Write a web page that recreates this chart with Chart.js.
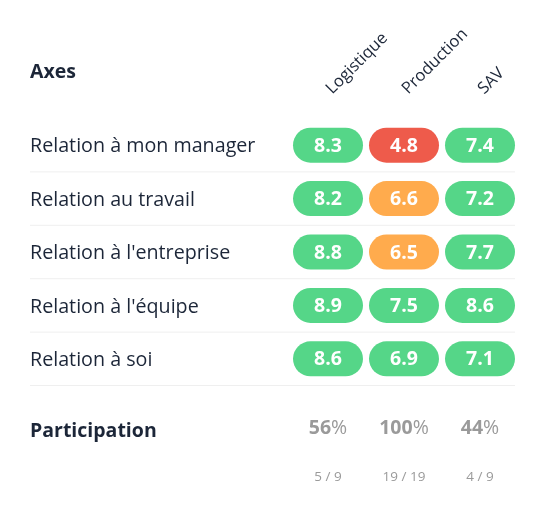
<!DOCTYPE html>
<html>
<head>
<meta charset="utf-8">
<style>
  html, body { margin: 0; background: #fff; }
  canvas { display: block; }
</style>
<script src="https://cdn.jsdelivr.net/npm/chart.js@4/dist/chart.umd.js"></script>
</head>
<body>
<canvas id="grille" width="540" height="514"></canvas>
<script>
const colonnes = ["Logistique", "Production", "SAV"];
const lignes = ["Relation à mon manager", "Relation au travail", "Relation à l'entreprise", "Relation à l'équipe", "Relation à soi"];

const logistique = [8.3, 8.2, 8.8, 8.9, 8.6];
const production = [4.8, 6.6, 6.5, 7.5, 6.9];
const sav = [7.4, 7.2, 7.7, 8.6, 7.1];

const participation = [56, 100, 44];
const repondants = ["5 / 9", "19 / 19", "4 / 9"];

const POLICE = "'Open Sans', sans-serif";
const SOMBRE = "#1c2638";
const GRIS = "#9a9a9a";

function couleur(note) {
    if (note < 5) return "#ee5b4b";
    if (note < 6.8) return "#ffab4d";
    return "#55d688";
}

function serie(nom, notes) {
    return {
        label: nom,
        data: notes.map((note, i) => ({ x: nom, y: lignes[i], note: note })),
        showLine: false,
        pointRadius: 0
    };
}

// pastilles + textes hors axes
const grillePlugin = {
    id: "grille",
    beforeDatasetsDraw(chart) {
        const ctx = chart.ctx;
        const y = chart.scales.y;
        const pas = y.getPixelForValue(1) - y.getPixelForValue(0);
        ctx.save();
        ctx.strokeStyle = "#efefef";
        ctx.lineWidth = 1;
        lignes.forEach((l, i) => {
            const py = y.getPixelForValue(i) + pas / 2;
            ctx.beginPath();
            ctx.moveTo(30, py);
            ctx.lineTo(515, py);
            ctx.stroke();
        });
        ctx.restore();
    },
    afterDatasetsDraw(chart) {
        const ctx = chart.ctx;
        ctx.save();
        ctx.textAlign = "center";
        ctx.textBaseline = "middle";
        chart.data.datasets.forEach((ds, d) => {
            chart.getDatasetMeta(d).data.forEach((pt, i) => {
                ctx.beginPath();
                ctx.roundRect(pt.x - 35, pt.y - 17.5, 70, 35, 17.5);
                ctx.fillStyle = couleur(ds.data[i].note);
                ctx.fill();
                ctx.fillStyle = "#fff";
                ctx.font = "bold 19.5px " + POLICE;
                ctx.fillText(ds.data[i].note.toFixed(1), pt.x, pt.y + 1);
            });
        });

        ctx.textAlign = "left";
        ctx.fillStyle = SOMBRE;
        ctx.font = "bold 19.5px " + POLICE;
        ctx.fillText("Axes", 30, 72.5);
        ctx.fillText("Participation", 30, 431);

        const x = chart.scales.x;
        colonnes.forEach((c, i) => {
            const px = x.getPixelForValue(i);
            ctx.fillStyle = GRIS;
            ctx.font = "bold 19.5px " + POLICE;
            const nb = String(participation[i]);
            const l1 = ctx.measureText(nb).width;
            ctx.font = "19.5px " + POLICE;
            const l2 = ctx.measureText("%").width;
            ctx.textAlign = "left";
            ctx.font = "bold 19.5px " + POLICE;
            ctx.fillText(nb, px - (l1 + l2) / 2, 428.5);
            ctx.font = "19.5px " + POLICE;
            ctx.fillText("%", px - (l1 + l2) / 2 + l1, 428.5);

            ctx.textAlign = "center";
            ctx.font = "13.5px " + POLICE;
            ctx.fillText(repondants[i], px, 477);
        });
        ctx.restore();
    }
};

new Chart(document.getElementById("grille"), {
    type: "line",
    data: {
        labels: colonnes,
        datasets: [
            serie(colonnes[0], logistique),
            serie(colonnes[1], production),
            serie(colonnes[2], sav)
        ]
    },
    options: {
        responsive: false,
        animation: false,
        layout: { padding: { left: 30, right: 22, top: 0, bottom: 128.5 } },
        plugins: { legend: { display: false }, tooltip: { enabled: false } },
        scales: {
            x: {
                type: "category",
                position: "top",
                labels: colonnes,
                offset: true,
                grid: { display: false },
                border: { display: false },
                afterFit(s) { s.height = 118.5; },
                ticks: {
                    autoSkip: false,
                    minRotation: 45,
                    maxRotation: 45,
                    padding: 12,
                    labelOffset: 15,
                    color: SOMBRE,
                    font: { family: POLICE, size: 16.5 }
                }
            },
            y: {
                type: "category",
                labels: lignes,
                offset: true,
                grid: { display: false },
                border: { display: false },
                afterFit(s) { s.width = 260; },
                ticks: {
                    autoSkip: false,
                    crossAlign: "far",
                    labelOffset: 1.5,
                    color: SOMBRE,
                    font: { family: POLICE, size: 19.7 }
                }
            }
        }
    },
    plugins: [grillePlugin]
});
</script>
</body>
</html>
